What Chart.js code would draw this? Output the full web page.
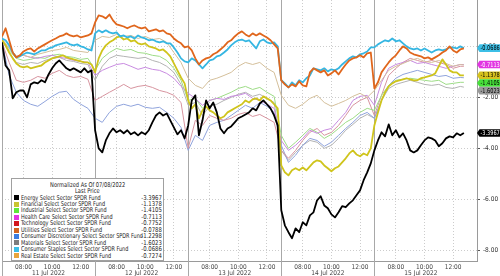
<!DOCTYPE html>
<html>
<head>
<meta charset="utf-8">
<script src="https://cdn.jsdelivr.net/npm/chart.js@4/dist/chart.umd.min.js"></script>
<style>
html,body{margin:0;padding:0;background:#fff;}
#wrap{position:relative;width:500px;height:276px;overflow:hidden;background:#fff;}
#c{position:absolute;left:0;top:0;}
#legend{position:absolute;left:11px;top:178px;width:153px;height:83px;box-sizing:border-box;border:1px solid #a0a0a0;background:#fff;
  font-family:'Liberation Sans Narrow','Arial Narrow','DejaVu Sans Condensed','Liberation Sans',sans-serif;font-size:6.6px;color:#222;}
#legend .t{position:absolute;left:0;right:0;text-align:center;height:7px;line-height:7px;white-space:nowrap;}
#legend .t span{display:inline-block;transform:scaleX(0.86);transform-origin:center center;}
#legend .row{position:absolute;left:0;right:0;height:6.4px;line-height:6.4px;white-space:nowrap;}
#legend .sq{position:absolute;left:2px;top:0.8px;width:5px;height:5px;}
#legend .nm{position:absolute;left:9px;transform:scaleX(0.83);transform-origin:left center;}
#legend .vl{position:absolute;right:1.5px;transform:scaleX(0.9);transform-origin:right center;}
</style>
</head>
<body>
<div id="wrap">
<canvas id="c" width="500" height="276"></canvas>
<div id="legend"></div>
</div>
<script>
const FONT = "'Liberation Sans Narrow','Arial Narrow','DejaVu Sans Condensed','Liberation Sans',sans-serif";
const STEP = 15;        // minutes between points (fine series)
const DAY_MIN = 390;    // trading minutes per session (06:30-13:00)
const days = ['11 Jul 2022','12 Jul 2022','13 Jul 2022','14 Jul 2022','15 Jul 2022'];
const hourTickMinutes = [90, 210, 330];
const hourTickLabels = ['08:00','10:00','12:00'];
const yTickValues = [-8, -6, -4, -2, 0];

const seriesNames = [
  'Energy Select Sector SPDR Fund',
  'Financial Select Sector SPDR Fund',
  'Industrial Select Sector SPDR Fund',
  'Health Care Select Sector SPDR Fund',
  'Technology Select Sector SPDR Fund',
  'Utilities Select Sector SPDR Fund',
  'Consumer Discretionary Select Sector SPDR Fund',
  'Materials Select Sector SPDR Fund',
  'Consumer Staples Select Sector SPDR Fund',
  'Real Estate Select Sector SPDR Fund'
];
const lastPrices = [-3.3967, -1.1378, -1.4105, -0.7113, -0.7752, -0.0788, -1.2298, -1.6023, -0.0686, -0.7274];

// 15-minute series (130 points)
const energy = [
  0.16,-0.75,-0.94,-2.04,-1.80,-1.73,-1.73,-2.00,-1.49,-1.41,-1.45,-1.33,-1.41,-1.10,-0.86,-0.67,-0.55,-0.71,-0.86,-0.94,-0.86,-0.94,-1.02,-0.86,-1.02,-0.94,
  -3.29,-4.00,-4.16,-3.69,-3.41,-3.22,-3.37,-3.29,-3.41,-3.29,-3.45,-3.37,-3.49,-3.37,-3.45,-3.29,-2.98,-2.71,-2.59,-2.71,-2.63,-2.90,-3.18,-3.45,-3.29,-3.61,
  -3.10,-2.12,-1.92,-3.49,-2.90,-2.12,-2.43,-2.20,-2.59,-3.22,-3.41,-3.22,-3.14,-2.98,-2.82,-2.75,-2.67,-2.59,-2.43,-2.51,-2.24,-2.12,-2.27,-2.43,-2.71,-3.10,
  -6.43,-7.02,-7.29,-7.53,-7.14,-7.29,-6.90,-7.02,-6.63,-6.51,-6.04,-5.88,-6.24,-6.35,-6.59,-6.71,-6.51,-6.27,-6.31,-6.16,-6.04,-5.84,-5.65,-5.25,-4.94,-4.59,
  -4.08,-3.69,-3.37,-3.53,-3.06,-3.49,-3.29,-3.57,-3.41,-3.69,-4.08,-4.16,-4.08,-3.88,-3.69,-3.57,-3.61,-3.69,-3.92,-3.80,-3.61,-3.53,-3.57,-3.41,-3.49,-3.40
];
const financial = [
  0.24,0.04,-0.24,-0.47,-0.67,-0.78,-0.82,-0.78,-0.86,-0.82,-0.78,-0.75,-0.63,-0.55,-0.47,-0.43,-0.39,-0.35,-0.43,-0.47,-0.51,-0.55,-0.59,-0.63,-0.63,-0.71,
  -1.02,-0.47,-0.16,0.04,0.16,0.24,0.35,0.39,0.27,0.31,0.20,0.24,0.12,0.08,0.12,0,-0.04,-0.08,-0.16,-0.12,-0.24,-0.39,-0.67,-0.94,-1.22,-1.45,
  -2.12,-2.43,-2.27,-2.82,-2.51,-2.35,-2.51,-2.59,-2.71,-2.82,-2.75,-2.59,-2.51,-2.43,-2.35,-2.27,-2.12,-2.20,-2.08,-2.04,-2.12,-1.96,-2.04,-2.12,-2.27,-2.43,
  -4.67,-4.94,-5.06,-4.86,-4.78,-4.86,-4.75,-4.86,-4.71,-4.55,-4.47,-4.51,-4.67,-4.78,-4.90,-4.78,-4.71,-4.55,-4.39,-4.20,-4.08,-4.24,-4.31,-4.20,-4.27,-4.00,
  -3.10,-2.59,-2.12,-1.80,-1.57,-1.45,-1.37,-1.33,-1.29,-1.25,-1.29,-1.33,-1.33,-1.25,-1.22,-1.18,-1.14,-1.06,-0.78,-0.51,-0.71,-0.94,-1.02,-1.02,-1.14,-1.14
];
const utilities = [
  0.39,0.71,0.24,-0.24,-0.43,-0.35,-0.20,-0.12,-0.08,-0.20,-0.08,0,0.08,0.16,0.24,0.31,0.39,0.43,0.51,0.43,0.39,0.43,0.35,0.39,0.43,0.51,
  0.94,1.22,1.18,1.10,1.25,1.02,0.86,0.82,0.78,0.71,0.78,0.82,0.75,0.71,0.75,0.59,0.63,0.67,0.59,0.63,0.51,0.47,0.31,0.20,0.12,-0.04,
  0,-0.16,-0.47,-0.71,-0.55,-0.47,-0.43,-0.31,-0.24,-0.12,0,0.16,0.24,0.39,0.51,0.59,0.47,0.39,0.51,0.43,0.51,0.43,0.35,0.24,0.08,-0.08,
  -1.33,-1.49,-1.61,-1.49,-1.57,-1.37,-1.53,-1.57,-1.02,-0.86,-0.94,-1.02,-0.94,-1.14,-1.06,-0.94,-1.10,-0.90,-0.71,-0.55,-0.47,-0.43,-0.35,-0.43,-0.27,-0.24,
  -1.65,-1.41,-1.02,-0.82,-0.63,-0.47,-0.35,-0.16,0,-0.08,-0.24,-0.31,-0.35,-0.39,-0.47,-0.43,-0.51,-0.43,-0.35,-0.24,-0.16,0,-0.16,-0.24,-0.12,-0.08
];
const consStaples = [
  0.31,0.24,0.04,-0.24,-0.43,-0.39,-0.31,-0.24,-0.27,-0.31,-0.24,-0.16,-0.16,-0.08,-0.04,0.04,0.08,0.12,0.16,0.08,0.04,0.08,0,-0.04,-0.12,-0.16,
  0.51,0.63,0.55,0.63,0.55,0.51,0.55,0.39,0.43,0.35,0.39,0.31,0.43,0.35,0.31,0.24,0.27,0.20,0.16,0.20,0.12,0.12,-0.04,-0.24,-0.47,-0.59,
  -0.63,-0.47,-0.55,-0.71,-0.86,-0.71,-0.55,-0.51,-0.39,-0.35,-0.24,-0.12,0.04,0.16,0.24,0.27,0.20,0.24,0.08,-0.08,0.20,0.27,0.16,0.12,0.16,0,
  -1.33,-1.45,-1.61,-1.41,-1.53,-1.33,-1.41,-1.25,-1.14,-0.86,-0.90,-0.94,-0.86,-0.98,-0.90,-0.94,-0.86,-0.71,-0.59,-0.47,-0.39,-0.43,-0.31,-0.27,-0.20,-0.04,
  -0.04,0.08,0.16,0.24,0.20,0.31,0.20,0.24,0.12,0,-0.08,-0.12,-0.08,-0.16,-0.08,-0.16,-0.24,-0.16,-0.12,-0.16,-0.12,-0.04,-0.04,-0.08,0,-0.07
];
// 30-minute series (66 points)
const industrial = [
  0.24,-0.16,-0.47,-0.55,-0.51,-0.43,-0.47,-0.35,-0.31,-0.39,-0.43,-0.51,-0.47,
  -0.94,-0.47,-0.24,-0.08,-0.16,-0.12,-0.24,-0.27,-0.35,-0.39,-0.55,-0.86,-1.33,
  -2.12,-2.04,-2.43,-2.12,-2.04,-1.92,-1.80,-1.65,-1.57,-1.69,-1.61,-1.80,-1.96,
  -3.49,-4.00,-3.76,-3.49,-3.22,-3.37,-3.61,-3.45,-3.22,-2.98,-2.82,-2.59,-2.43,
  -2.51,-1.92,-1.53,-1.33,-1.29,-1.25,-1.29,-1.33,-1.37,-1.33,-1.49,-1.45,-1.41,-1.41
];
const healthCare = [
  0.24,-0.08,-0.39,-0.35,-0.43,-0.47,-0.39,-0.35,-0.43,-0.47,-0.55,-0.59,-0.63,
  -1.14,-0.94,-0.82,-0.71,-0.67,-0.78,-0.90,-0.82,-0.90,-0.94,-1.06,-1.25,-1.57,
  -1.84,-2.04,-2.31,-2.12,-2.04,-2.08,-1.96,-1.92,-1.84,-2.04,-2.12,-2.27,-2.43,
  -3.69,-4.08,-3.88,-3.61,-3.29,-3.41,-3.29,-3.22,-2.90,-2.59,-2.12,-1.96,-1.92,
  -2.31,-1.41,-0.86,-0.71,-0.63,-0.55,-0.67,-0.63,-0.71,-0.78,-0.86,-0.78,-0.71,-0.71
];
const technology = [
  0.16,-0.63,-1.33,-1.41,-1.33,-1.18,-1.25,-1.06,-0.94,-1.14,-1.22,-1.18,-1.29,
  -2.12,-1.96,-1.80,-1.65,-1.49,-1.65,-1.57,-1.53,-1.61,-1.73,-1.80,-1.92,-2.20,
  -4.00,-2.90,-3.10,-2.71,-2.82,-2.90,-2.82,-2.67,-2.59,-2.75,-2.67,-2.82,-2.98,
  -4.08,-4.39,-4.08,-3.69,-3.37,-3.22,-3.49,-3.37,-3.10,-2.71,-2.31,-2.12,-2.00,
  -2.71,-1.92,-1.14,-0.86,-0.63,-0.47,-0.55,-0.63,-0.55,-0.63,-0.71,-0.86,-0.78,-0.78
];
const consDisc = [
  0.16,-1.14,-1.80,-2.12,-2.27,-2.35,-2.16,-1.96,-1.80,-1.76,-2.08,-2.27,-2.43,
  -2.82,-2.98,-2.59,-2.35,-2.27,-2.35,-2.27,-2.39,-2.43,-2.39,-2.59,-2.82,-3.18,
  -4.08,-3.49,-3.69,-3.10,-2.98,-2.90,-2.71,-2.51,-2.31,-2.43,-2.20,-2.35,-2.59,
  -3.88,-4.55,-4.27,-3.88,-3.61,-3.69,-3.92,-3.76,-3.49,-3.22,-2.98,-2.71,-2.59,
  -2.82,-2.12,-1.53,-1.25,-1.10,-1.02,-0.94,-1.02,-1.10,-1.18,-1.14,-1.25,-1.22,-1.23
];
const materials = [
  0.24,-0.24,-0.63,-0.71,-0.63,-0.67,-0.55,-0.47,-0.43,-0.55,-0.59,-0.67,-0.71,
  -1.33,-0.78,-0.47,-0.35,-0.39,-0.43,-0.47,-0.43,-0.55,-0.63,-0.78,-1.02,-1.49,
  -2.31,-2.20,-2.71,-2.35,-2.27,-2.12,-2.00,-1.88,-1.80,-1.96,-1.88,-2.04,-2.20,
  -4.08,-4.47,-4.16,-3.88,-3.69,-3.76,-4.00,-3.88,-3.61,-3.29,-3.06,-2.82,-2.67,
  -2.82,-2.12,-1.65,-1.49,-1.41,-1.33,-1.41,-1.49,-1.53,-1.49,-1.61,-1.65,-1.57,-1.60
];
const realEstate = [
  0.31,-0.08,-0.39,-0.35,-0.43,-0.31,-0.24,-0.16,-0.12,-0.04,-0.16,-0.20,-0.24,
  0.24,0.39,0.35,0.47,0.39,0.43,0.31,0.39,0.27,0.31,0.16,-0.24,-0.63,
  -1.25,-1.53,-1.65,-1.33,-1.25,-1.14,-1.02,-0.78,-0.63,-0.71,-0.63,-0.86,-1.02,
  -1.92,-2.31,-2.43,-2.27,-2.04,-1.92,-2.20,-2.35,-2.24,-2.12,-1.96,-1.84,-2.00,
  -1.73,-1.33,-0.94,-0.78,-0.67,-0.55,-0.47,-0.59,-0.63,-0.55,-0.67,-0.78,-0.71,-0.73
];

const legendColors = ['#000000','#c8c431','#5de83a','#e236e2','#d4161c','#d3641f','#3c7de0','#7d7d7d','#3cbfe6','#e8a43c'];
const lineColors   = ['#000000','#cfc41c','#9ddc86','#c88ae0','#d7949f','#e0661c','#8fa3dc','#b3b3b3','#35b6e2','#d4bf9a'];
const lineWidths   = [1.8, 1.8, 1, 1, 1, 1.8, 1, 1, 1.8, 1];
const drawOrder    = [0, 3, 6, 5, 7, 1, 8, 9, 2, 4];
const tagSeries = [8, 3, 1, 2, 7, 0];
const tagFill = {8:'#3cbfe6', 3:'#e236e2', 1:'#d6c21e', 2:'#46e03a', 7:'#9a9a9a', 0:'#000000'};
const tagText = {8:'#000', 3:'#fff', 1:'#000', 2:'#000', 7:'#000', 0:'#fff'};

const fineMinutes = Array.from({length: energy.length}, (_, k) => k * STEP);
const coarseMinutes = fineMinutes.filter((m, k) => k % 2 === 0).slice(0, 65).concat([129 * STEP]);

const seriesValues = [energy, financial, industrial, healthCare, technology, utilities, consDisc, materials, consStaples, realEstate];

const datasets = seriesValues.map((vals, i) => {
  const mins = vals.length === fineMinutes.length ? fineMinutes : coarseMinutes;
  return {
    label: seriesNames[i],
    data: vals.map((v, j) => ({x: mins[j], y: v})),
    borderColor: lineColors[i],
    borderWidth: lineWidths[i],
    pointRadius: 0,
    fill: false,
    order: drawOrder[i]
  };
});

const xTickValues = [];
days.forEach((d, i) => hourTickMinutes.forEach(m => xTickValues.push(i * DAY_MIN + m)));
function hourLabel(v) {
  const m = ((v % DAY_MIN) + DAY_MIN) % DAY_MIN;
  const idx = hourTickMinutes.indexOf(m);
  return idx >= 0 ? hourTickLabels[idx] : '';
}

const decor = {
  id: 'decor',
  beforeDatasetsDraw(chart) {
    const {ctx, scales: {x}} = chart;
    ctx.save();
    ctx.strokeStyle = '#a8a8a8';
    ctx.lineWidth = 1;
    days.forEach((d, i) => {
      const px = Math.round(x.getPixelForValue(i * DAY_MIN)) + 0.5;
      ctx.beginPath(); ctx.moveTo(px, 0); ctx.lineTo(px, chart.height); ctx.stroke();
    });
    ctx.restore();
  },
  afterDraw(chart) {
    const {ctx, scales: {x, y}, chartArea} = chart;
    ctx.save();
    ctx.font = '6.5px ' + FONT;
    ctx.fillStyle = '#444';
    ctx.textAlign = 'center';
    ctx.textBaseline = 'middle';
    days.forEach((d, i) => {
      ctx.fillText(d, x.getPixelForValue(i * DAY_MIN + DAY_MIN / 2), 273);
    });
    // last-price tags
    const items = tagSeries.map(i => ({i, py: y.getPixelForValue(lastPrices[i])})).sort((a, b) => a.py - b.py);
    const h = 7.6;
    for (let k = 1; k < items.length; k++) {
      if (items[k].py < items[k - 1].py + h) items[k].py = items[k - 1].py + h;
    }
    const xr = chartArea.right;
    items.forEach(it => {
      const cy = it.py;
      ctx.fillStyle = tagFill[it.i];
      ctx.beginPath();
      ctx.moveTo(xr, cy);
      ctx.lineTo(xr + 2.5, cy - h / 2);
      ctx.lineTo(500, cy - h / 2);
      ctx.lineTo(500, cy + h / 2);
      ctx.lineTo(xr + 2.5, cy + h / 2);
      ctx.closePath();
      ctx.fill();
      ctx.save();
      ctx.translate(xr + 3.5, cy + 0.3);
      ctx.scale(0.84, 1);
      ctx.fillStyle = tagText[it.i];
      ctx.textAlign = 'left';
      ctx.font = '6.6px ' + FONT;
      ctx.fillText(lastPrices[it.i].toFixed(4), 0, 0);
      ctx.restore();
    });
    ctx.restore();
  }
};

new Chart(document.getElementById('c'), {
  type: 'line',
  data: {datasets},
  plugins: [decor],
  options: {
    responsive: false,
    animation: false,
    events: [],
    layout: {padding: {left: 2, right: 0, top: 0, bottom: 0}},
    plugins: {legend: {display: false}, tooltip: {enabled: false}},
    elements: {line: {tension: 0, borderJoinStyle: 'round'}, point: {radius: 0}},
    scales: {
      x: {
        type: 'linear', min: 0, max: 1990,
        afterBuildTicks: s => { s.ticks = xTickValues.map(v => ({value: v})); },
        afterFit: s => { s.height = 15; s.paddingLeft = 0; s.paddingRight = 0; },
        ticks: {autoSkip: false, maxRotation: 0, minRotation: 0, padding: 2, color: '#444',
                font: {family: FONT, size: 6.5}, callback: v => hourLabel(v)},
        grid: {color: '#cccccc', lineWidth: 1, drawTicks: false},
        border: {display: true, color: '#9a9a9a', width: 1, dash: [1, 2]}
      },
      y: {
        position: 'right', min: -8.42, max: 1.82,
        afterBuildTicks: s => { s.ticks = yTickValues.map(v => ({value: v})); },
        afterFit: s => { s.width = 23; s.paddingTop = 0; s.paddingBottom = 0; },
        ticks: {padding: 3, color: '#333', font: {family: FONT, size: 6.5}, callback: v => v.toFixed(2)},
        grid: {color: '#cccccc', lineWidth: 1, tickLength: 3, tickColor: '#555', drawTicks: true},
        border: {display: true, color: '#9a9a9a', width: 1, dash: [1, 2]}
      }
    }
  }
});

// legend box
const lg = document.getElementById('legend');
function addTitle(text, top) {
  const d = document.createElement('div'); d.className = 't'; d.style.top = top + 'px';
  const s = document.createElement('span'); s.textContent = text; d.appendChild(s); lg.appendChild(d);
}
addTitle('Normalized As Of 07/08/2022', 2.5);
addTitle('Last Price', 9.3);
seriesNames.forEach((n, i) => {
  const r = document.createElement('div'); r.className = 'row'; r.style.top = (15.6 + 6.44 * i) + 'px';
  const sq = document.createElement('div'); sq.className = 'sq'; sq.style.background = legendColors[i];
  const nm = document.createElement('span'); nm.className = 'nm'; nm.textContent = n;
  const vl = document.createElement('span'); vl.className = 'vl'; vl.textContent = lastPrices[i].toFixed(4);
  r.appendChild(sq); r.appendChild(nm); r.appendChild(vl); lg.appendChild(r);
});
</script>
</body>
</html>
